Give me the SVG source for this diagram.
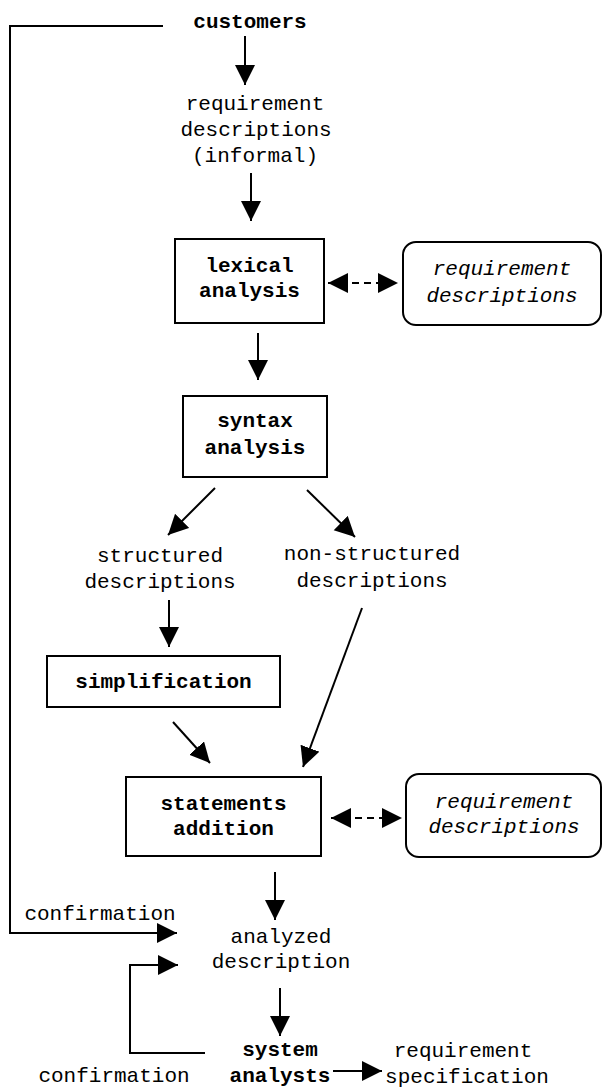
<svg xmlns="http://www.w3.org/2000/svg" width="602" height="1091" viewBox="0 0 602 1091">
<style>
text{font-family:"Liberation Mono","Courier New",monospace;font-size:21px;fill:#000;text-anchor:middle}
.b{font-weight:bold}
.i{font-style:italic}
.box{fill:#fff;stroke:#000;stroke-width:2}
.c{fill:none;stroke:#000;stroke-width:2}
.d{fill:none;stroke:#000;stroke-width:2;stroke-dasharray:7 5}
</style>
<defs>
<marker id="ah" markerUnits="userSpaceOnUse" markerWidth="22" markerHeight="22" refX="20" refY="10" orient="auto-start-reverse" viewBox="0 0 22 22">
<path d="M0,0 L20,10 L0,20 z" fill="#000"/>
</marker>
</defs>
<g id="connectors">
<path class="c" d="M163,26 H10 V933 H177" marker-end="url(#ah)"/>
<path class="c" d="M205,1053 H130 V965 H178" marker-end="url(#ah)"/>
<line class="c" x1="245" y1="36" x2="245" y2="85" marker-end="url(#ah)"/>
<line class="c" x1="251" y1="173" x2="251" y2="221" marker-end="url(#ah)"/>
<line class="d" x1="328" y1="283" x2="398" y2="283" marker-start="url(#ah)" marker-end="url(#ah)"/>
<line class="c" x1="258" y1="333" x2="258" y2="380" marker-end="url(#ah)"/>
<line class="c" x1="215" y1="488" x2="168" y2="535" marker-end="url(#ah)"/>
<line class="c" x1="307" y1="490" x2="355" y2="537" marker-end="url(#ah)"/>
<line class="c" x1="169" y1="600" x2="169" y2="647" marker-end="url(#ah)"/>
<line class="c" x1="173" y1="722" x2="210" y2="763" marker-end="url(#ah)"/>
<line class="c" x1="362" y1="608" x2="303" y2="767" marker-end="url(#ah)"/>
<line class="d" x1="331" y1="818" x2="402" y2="818" marker-start="url(#ah)" marker-end="url(#ah)"/>
<line class="c" x1="275" y1="872" x2="275" y2="920" marker-end="url(#ah)"/>
<line class="c" x1="280" y1="988" x2="280" y2="1036" marker-end="url(#ah)"/>
<line class="c" x1="333" y1="1071" x2="382" y2="1071" marker-end="url(#ah)"/>
</g>
<g id="customers"><text class="b" x="250" y="28">customers</text></g>
<g id="req-informal">
<text x="255" y="110">requirement</text>
<text x="256" y="136">descriptions</text>
<text x="255" y="162">(informal)</text>
</g>
<g id="lexical">
<rect class="box" x="175" y="239" width="149" height="84"/>
<text class="b" x="249.5" y="272">lexical</text>
<text class="b" x="249.5" y="297">analysis</text>
</g>
<g id="reqdesc1">
<rect class="box" x="403" y="242" width="198" height="83" rx="13"/>
<text class="i" x="502" y="275">requirement</text>
<text class="i" x="502" y="302">descriptions</text>
</g>
<g id="syntax">
<rect class="box" x="183" y="396" width="144" height="81"/>
<text class="b" x="255" y="427">syntax</text>
<text class="b" x="255" y="454">analysis</text>
</g>
<g id="structured">
<text x="160" y="562">structured</text>
<text x="160" y="588">descriptions</text>
</g>
<g id="nonstructured">
<text x="372" y="560">non-structured</text>
<text x="372" y="587">descriptions</text>
</g>
<g id="simplification">
<rect class="box" x="47" y="656" width="233" height="51"/>
<text class="b" x="163.5" y="688">simplification</text>
</g>
<g id="statements">
<rect class="box" x="126" y="777" width="195" height="79"/>
<text class="b" x="223.5" y="810">statements</text>
<text class="b" x="223.5" y="835">addition</text>
</g>
<g id="reqdesc2">
<rect class="box" x="406" y="774" width="195" height="83" rx="13"/>
<text class="i" x="504" y="808">requirement</text>
<text class="i" x="504" y="833">descriptions</text>
</g>
<g id="confirmation1"><text x="100" y="920">confirmation</text></g>
<g id="analyzed">
<text x="281" y="943">analyzed</text>
<text x="281" y="968">description</text>
</g>
<g id="analysts">
<text class="b" x="280" y="1056">system</text>
<text class="b" x="280" y="1082">analysts</text>
</g>
<g id="confirmation2"><text x="114" y="1082">confirmation</text></g>
<g id="reqspec">
<text x="463" y="1057">requirement</text>
<text x="467" y="1083">specification</text>
</g>
</svg>
